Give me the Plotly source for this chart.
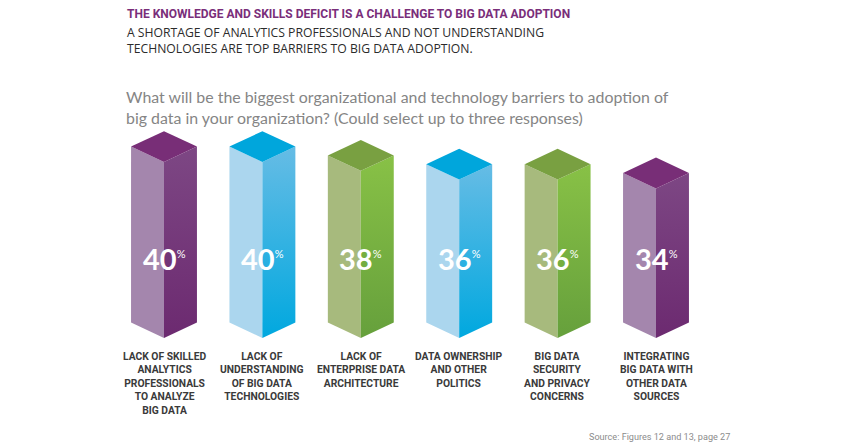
import plotly.graph_objects as go

# datos del grafico
categorias = [
    "LACK OF SKILLED<br>ANALYTICS<br>PROFESSIONALS<br>TO ANALYZE<br>BIG DATA",
    "LACK OF<br>UNDERSTANDING<br>OF BIG DATA<br>TECHNOLOGIES",
    "LACK OF<br>ENTERPRISE DATA<br>ARCHITECTURE",
    "DATA OWNERSHIP<br>AND OTHER<br>POLITICS",
    "BIG DATA<br>SECURITY<br>AND PRIVACY<br>CONCERNS",
    "INTEGRATING<br>BIG DATA WITH<br>OTHER DATA<br>SOURCES",
]
valores = [40, 40, 38, 36, 36, 34]
colores_barra = ["morado", "azul", "verde", "azul", "verde", "morado"]

titulo = "THE KNOWLEDGE AND SKILLS DEFICIT IS A CHALLENGE TO BIG DATA ADOPTION"
subtitulo = ("A SHORTAGE OF ANALYTICS PROFESSIONALS AND NOT UNDERSTANDING<br>"
             "TECHNOLOGIES ARE TOP BARRIERS TO BIG DATA ADOPTION.")
pregunta = ("What will be the biggest organizational and technology barriers to adoption of<br>"
            "big data in your organization? (Could select up to three responses)")
fuente = "Source: Figures 12 and 13, page 27"

# paleta: cara izquierda, cara derecha (arriba, abajo), tapa
paleta = {
    "morado": dict(izq="#a486ad", der_arriba="#7d4784", der_abajo="#6c2a70", tapa="#782e77"),
    "azul": dict(izq="#abd6ee", der_arriba="#66bce5", der_abajo="#00a8df", tapa="#00a6dc"),
    "verde": dict(izq="#a7ba7d", der_arriba="#88c146", der_abajo="#66a03c", tapa="#79a041"),
}

W = 856
H = 448
# escala: 98.4 px entre barras, 4.4 px por punto porcentual
x0_px, paso_px = 164, 98.4
y0_px, px_por_pct = 338, 4.4
ancho = 0.335   # medio ancho de cada cara
prof = 3.5      # desplazamiento isometrico en %

fuente_cond = "Roboto, Liberation Sans, sans-serif"

fig = go.Figure()

for i, (v, c) in enumerate(zip(valores, colores_barra)):
    p = paleta[c]
    # cara izquierda
    fig.add_trace(go.Scatter(
        x=[i - ancho, i, i, i - ancho, i - ancho],
        y=[prof, 0, v, v + prof, prof],
        fill="toself", fillcolor=p["izq"], mode="lines",
        line=dict(width=0), hoverinfo="skip", showlegend=False))
    # cara derecha con degradado
    fig.add_trace(go.Scatter(
        x=[i, i + ancho, i + ancho, i, i],
        y=[0, prof, v + prof, v, 0],
        fill="toself", mode="lines",
        fillgradient=dict(type="vertical",
                          colorscale=[[0, p["der_abajo"]], [1, p["der_arriba"]]]),
        line=dict(width=0), hoverinfo="skip", showlegend=False))
    # tapa
    fig.add_trace(go.Scatter(
        x=[i, i - ancho, i, i + ancho, i],
        y=[v, v + prof, v + 2 * prof, v + prof, v],
        fill="toself", fillcolor=p["tapa"], mode="lines",
        line=dict(width=0), hoverinfo="skip", showlegend=False))

    # etiqueta de valor
    fig.add_annotation(
        x=i, y=(y0_px - 258) / px_por_pct, xref="x", yref="y",
        text=f"<b>{v}</b><sup><span style='font-size:11px'>%</span></sup>",
        showarrow=False, xanchor="center", yanchor="middle",
        font=dict(family="Lato, Open Sans, sans-serif", size=29, color="white"))

    # etiqueta de categoria
    fig.add_annotation(
        x=i, y=(y0_px - 348) / px_por_pct, xref="x", yref="y",
        text=categorias[i], showarrow=False, xanchor="center", yanchor="top",
        align="center",
        font=dict(family=fuente_cond, size=10.3, color="#3a3a3a", weight="bold"))

# textos de encabezado
fig.add_annotation(
    x=125 / W, y=1 - 5 / H, xref="paper", yref="paper", text=f"<b>{titulo}</b>",
    showarrow=False, xanchor="left", yanchor="top",
    font=dict(family=fuente_cond, size=12, color="#7a2e7a"))
fig.add_annotation(
    x=125 / W, y=1 - 22 / H, xref="paper", yref="paper", text=subtitulo,
    showarrow=False, xanchor="left", yanchor="top", align="left",
    font=dict(family="Open Sans, sans-serif", size=12.2, color="#2b2b2b"))
fig.add_annotation(
    x=124 / W, y=1 - 85 / H, xref="paper", yref="paper", text=pregunta,
    showarrow=False, xanchor="left", yanchor="top", align="left",
    font=dict(family="Lato, Open Sans, sans-serif", size=15.9, color="#858585"))
fig.add_annotation(
    x=732 / W, y=1 - 437 / H, xref="paper", yref="paper", text=fuente,
    showarrow=False, xanchor="right", yanchor="middle",
    font=dict(family=fuente_cond, size=9.1, color="#8c8c8c"))

fig.update_layout(
    width=W, height=H,
    margin=dict(l=0, r=0, t=0, b=0),
    paper_bgcolor="white", plot_bgcolor="white",
    xaxis=dict(range=[(0 - x0_px) / paso_px, (W - x0_px) / paso_px],
               visible=False, fixedrange=True),
    yaxis=dict(range=[(y0_px - H) / px_por_pct, y0_px / px_por_pct],
               visible=False, fixedrange=True),
    showlegend=False,
)

# quitar el margen del body para que el grafico quede en la esquina
fig.write_html("out.html", config={"displayModeBar": False},
               post_script="document.body.style.margin='0';")
